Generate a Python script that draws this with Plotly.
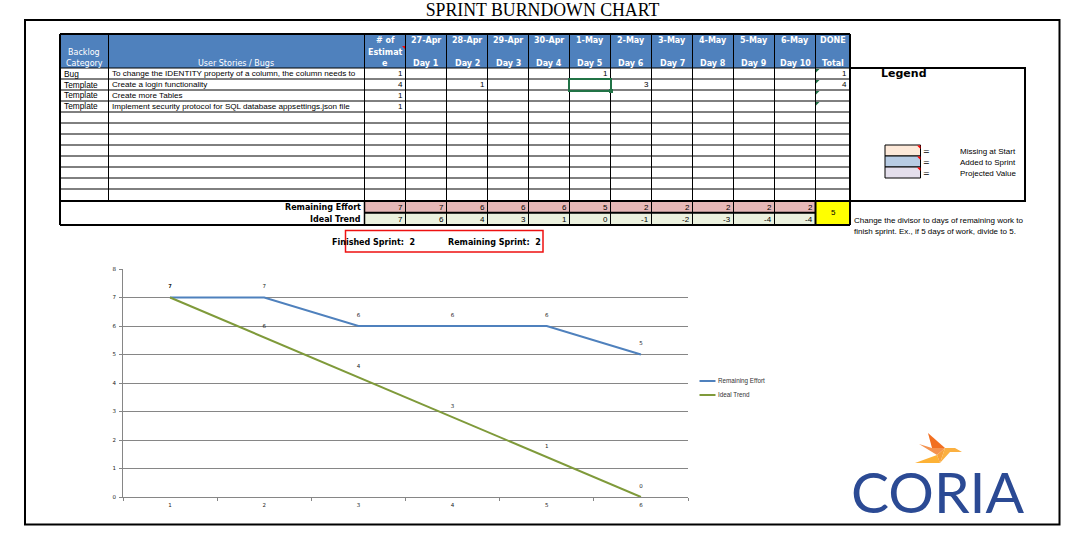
import plotly.graph_objects as go

W, H = 1073, 537

# ---------- data ----------
sheet_title = "SPRINT BURNDOWN CHART"
categories = ["Bug", "Template", "Template", "Template"]
stories = [
    "To change the IDENTITY property of a column, the column needs to",
    "Create a login functionality",
    "Create more Tables",
    "Implement security protocol for SQL database appsettings.json file",
]
estimates = [1, 4, 1, 1]
dates = ["27-Apr", "28-Apr", "29-Apr", "30-Apr", "1-May", "2-May", "3-May", "4-May", "5-May", "6-May"]
days = ["Day 1", "Day 2", "Day 3", "Day 4", "Day 5", "Day 6", "Day 7", "Day 8", "Day 9", "Day 10"]
story1_days = [None, None, None, None, 1, None, None, None, None, None]
story2_days = [None, 1, None, None, None, 3, None, None, None, None]
done_totals = [1, 4, None, None]
remaining_row = [7, 7, 6, 6, 6, 5, 2, 2, 2, 2, 2]
ideal_row = [7, 6, 4, 3, 1, 0, -1, -2, -3, -4, -4]
done_value = 5
finished_sprint = 2
remaining_sprint = 2

chart_x = ["1", "2", "3", "4", "5", "6"]
chart_remaining = [7, 7, 6, 6, 6, 5]
chart_ideal = [7, 5.6, 4.2, 2.8, 1.4, 0]
chart_ideal_labels = ["7", "6", "4", "3", "1", "0"]
chart_remaining_labels = ["7", "7", "6", "6", "6", "5"]
legend_items = ["Missing at Start", "Added to Sprint", "Projected Value"]
chart_legend = ["Remaining Effort", "Ideal Trend"]

# ---------- colours / fonts ----------
HEAD = "#4f81bd"; PINK = "#e6b8b7"; PALE = "#ebf1de"; BLUE = "#4f81bd"; OLIVE = "#7f9a3a"
SANS = "Liberation Sans"; WIDE = "DejaVu Sans"

def fx(x): return x / W
def fy(y): return 1 - y / H

shapes, notes = [], []

def rect(x0, y0, x1, y1, fill=None, line=None, w=1, layer="above"):
    shapes.append(dict(type="rect", xref="paper", yref="paper", x0=fx(x0), x1=fx(x1), y0=fy(y0), y1=fy(y1),
                       fillcolor=fill or "rgba(0,0,0,0)", line=dict(color=line or "rgba(0,0,0,0)", width=w if line else 0), layer=layer))

def seg(x0, y0, x1, y1, color="#000", w=1):
    shapes.append(dict(type="line", xref="paper", yref="paper", x0=fx(x0), x1=fx(x1), y0=fy(y0), y1=fy(y1),
                       line=dict(color=color, width=w), layer="above"))

def poly(points, color):
    d = "M " + " L ".join(f"{fx(a):.5f} {fy(b):.5f}" for a, b in points) + " Z"
    shapes.append(dict(type="path", xref="paper", yref="paper", path=d, fillcolor=color, line=dict(width=0), layer="above"))

def text(x, y, s, size=8, color="#000", font=SANS, anchor="left", bold=False):
    notes.append(dict(xref="paper", yref="paper", x=fx(x), y=fy(y), text=f"<b>{s}</b>" if bold else str(s), showarrow=False,
                      xanchor=anchor, yanchor="middle", borderpad=0,
                      font=dict(family=font, size=size, color=color)))

# ---------- frame ----------
rect(25, 20, 1059.5, 524.5, line="#000", w=2)

# ---------- table ----------
col_x = [60, 108.5, 364.5, 405.5, 446.5, 487.5, 528.5, 569.5, 610.5, 651.5, 692.5, 733.5, 774.5, 815.5, 850]
row_y = [68 + 11 * i for i in range(13)]
rect(col_x[0], 34, col_x[-1], row_y[0], fill=HEAD)
rect(col_x[2], 201, col_x[-2], 212.5, fill=PINK)
rect(col_x[2], 212.5, col_x[-2], 225, fill=PALE)
rect(col_x[-2], 201, col_x[-1], 225, fill="#ffff00")
for y in row_y[1:-1]:
    seg(col_x[0], y, col_x[-1], y, w=1)
for x in col_x[1:-1]:
    seg(x, 34, x, 225 if x >= col_x[2] else 201, w=1)
seg(col_x[0], 68, col_x[-1], 68, w=1)
seg(60, 34, 850, 34, w=2)
seg(60, 34, 60, 225, w=2)
seg(850, 34, 850, 225, w=2)
seg(60, 201, 850, 201, w=2)
seg(60, 225, 850, 225, w=2)
seg(col_x[2], 212.7, col_x[-2], 212.7, w=2)
seg(col_x[2], 201, col_x[2], 225, w=1.5)
seg(col_x[-2], 201, col_x[-2], 225, w=2)

HDR = dict(size=8, color="#fff", anchor="center", font=WIDE)
text(84, 52, "Backlog", **HDR)
text(84, 63, "Category", **HDR)
text(236, 63, "User Stories / Bugs", **HDR)
text(385, 40, "# of", bold=True, **HDR)
text(385, 52, "Estimat", bold=True, **HDR)
text(385, 63, "e", bold=True, **HDR)
poly([(402, 46), (405, 46), (405, 49)], "#ff0000")

for i, (d, n) in enumerate(zip(dates, days)):
    cx = (col_x[3 + i] + col_x[4 + i]) / 2
    text(cx, 40, d, bold=True, **HDR)
    text(cx, 63, n, bold=True, **HDR)
text(833, 40, "DONE", bold=True, **HDR)
text(833, 63, "Total", bold=True, **HDR)

for i, (c, s, e) in enumerate(zip(categories, stories, estimates)):
    yc = row_y[i] + 5.5
    text(63, yc, c, size=8.3, font=SANS)
    text(111, yc, s, size=8.1, font=SANS)
    text(col_x[3] - 2, yc, e, size=8, font=SANS, anchor="right")
    poly([(816, row_y[i] + 1), (819.5, row_y[i] + 1), (816, row_y[i] + 4.5)], "#1e7145")
for r, vals in enumerate([story1_days, story2_days]):
    for i, v in enumerate(vals):
        if v is not None:
            text(col_x[4 + i] - 2, row_y[r] + 5.5, v, size=8, font=SANS, anchor="right")
for i, v in enumerate(done_totals):
    if v is not None:
        text(col_x[-1] - 2, row_y[i] + 5.5, v, size=8, font=SANS, anchor="right")

text(362, 207, "Remaining Effort", size=8, font=WIDE, anchor="right", bold=True)
text(362, 219, "Ideal Trend", size=8, font=WIDE, anchor="right", bold=True)
for i, (a, b) in enumerate(zip(remaining_row, ideal_row)):
    text(col_x[3 + i] - 2, 207, a, size=8, font=SANS, anchor="right")
    text(col_x[3 + i] - 2, 219, b, size=8, font=SANS, anchor="right")
text(833, 213, done_value, size=8, font=SANS, anchor="center")

# selected cell
rect(569, 79, 611, 91, line="#217346", w=2)
rect(609, 89, 613, 93, fill="#217346")

# sheet legend
rect(850, 68, 1025, 201, line="#000", w=2)
text(903.5, 73.5, "Legend", size=11, anchor="center", font=WIDE, bold=True)
for i, (lab, col) in enumerate(zip(legend_items, ["#fde9d9", "#b8cce4", "#e4dfec"])):
    y0 = 145 + 11 * i
    rect(885, y0, 920.5, y0 + 11, fill=col, line="#000", w=1)
    poly([(917, y0 + 0.5), (920.5, y0 + 0.5), (920.5, y0 + 4)], "#ff0000")
    text(926, y0 + 6, "=", size=8, anchor="center", font=WIDE)
    text(958.5, y0 + 6, lab, size=8, font=SANS)

text(853, 220.5, "Change the divisor to days of remaining work to", size=8, font=SANS)
text(853, 231, "finish sprint. Ex., if 5 days of work, divide to 5.", size=8, font=SANS)

# sprint summary
rect(345.5, 230.5, 543, 252, line="#ee1111", w=1.5)
text(331, 242, f"Finished Sprint:&nbsp;&nbsp;{finished_sprint}", size=8, font=WIDE, bold=True)
text(447, 242, f"Remaining Sprint:&nbsp;&nbsp;{remaining_sprint}", size=8, font=WIDE, bold=True)

# chart legend (short swatches as in the reference)
for i, (lab, col) in enumerate(zip(chart_legend, [BLUE, OLIVE])):
    y = 381 + 14 * i
    seg(699.5, y, 715.5, y, color=col, w=2)
    text(717, y, lab, size=6.3, font=SANS, color="#333")

# ---------- logo ----------
poly([(928, 433), (945, 448), (932, 448)], "#f26f21")
poly([(919, 444), (932, 448), (945, 448), (937, 455)], "#f4924f")
poly([(915, 463), (937, 455), (940, 463)], "#fdb236")
poly([(945, 448), (937, 455), (940, 463)], "#f7a13c")
poly([(945, 448), (955, 448), (962, 452), (950, 452), (940, 463)], "#fbb040")
text(938, 491, "CORIA", size=57, color="#2b4a94", font="Lato", anchor="center")

# ---------- figure ----------
LABEL = dict(size=5.5, family=WIDE, color="#222")
fig = go.Figure()
for name, ys, labels, col in [(chart_legend[0], chart_remaining, chart_remaining_labels, BLUE),
                              (chart_legend[1], chart_ideal, chart_ideal_labels, OLIVE)]:
    fig.add_trace(go.Scatter(x=chart_x, y=ys, name=name, mode="lines+markers+text", text=labels,
                             textposition="top center", textfont=LABEL, cliponaxis=False,
                             marker=dict(size=11, color="rgba(0,0,0,0)"),
                             line=dict(color=col, width=2), hoverinfo="skip", showlegend=False))
fig.update_layout(
    width=W, height=H, margin=dict(l=0, r=0, t=0, b=0, autoexpand=False), paper_bgcolor="#fff", plot_bgcolor="#fff",
    showlegend=False, shapes=shapes, annotations=notes,
    title=dict(text=sheet_title, x=fx(542.5), y=fy(9.5), xref="paper", yref="paper", xanchor="center", yanchor="middle",
               font=dict(family="Liberation Serif", size=17.8, color="#000")),
    xaxis=dict(domain=[fx(123), fx(688)], type="category", range=[-0.5, 5.5], tickson="boundaries", ticks="outside", ticklen=3,
               ticklabelstandoff=2, tickcolor="#868686", linecolor="#868686", linewidth=1, showgrid=False, zeroline=False,
               tickfont=LABEL),
    yaxis=dict(domain=[fy(497), fy(269)], range=[0, 8], dtick=1, ticks="outside", ticklen=3, tickcolor="#868686",
               ticklabelstandoff=2, gridcolor="#868686", gridwidth=1, linecolor="#868686", linewidth=1, zeroline=False,
               tickfont=LABEL),
)
fig.write_html("out.html", config=dict(displayModeBar=False),
               post_script="document.body.style.margin='0';document.body.style.overflow='hidden';")
